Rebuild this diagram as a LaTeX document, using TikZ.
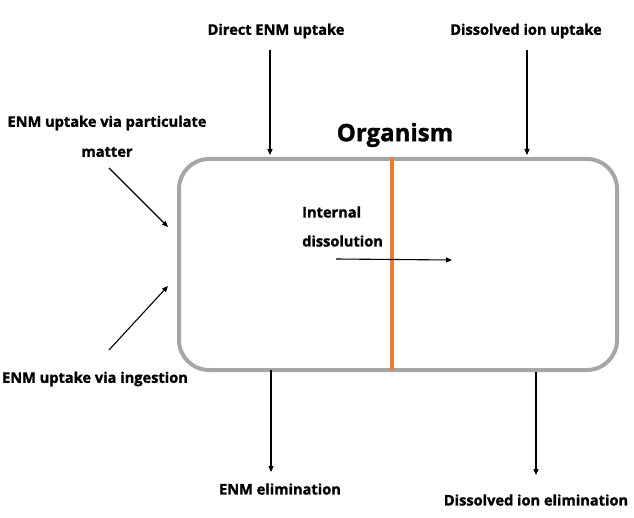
\documentclass[tikz,border=0pt]{standalone}
\usepackage{fontspec}
\setmainfont{Open Sans}[BoldFeatures={FakeBold=1.4}]
\usetikzlibrary{arrows.meta}
\definecolor{boxgray}{HTML}{A6A6A6}
\definecolor{orangeline}{HTML}{ED7D31}
\begin{document}
\begin{tikzpicture}[x=1pt,y=-1pt,
  lbl/.style={font=\bfseries\fontsize{14.6}{16}\selectfont, inner sep=0pt},
  flow/.style={draw=black, line width=1.1pt, -{Triangle[length=6pt,width=5pt]}}]
\useasboundingbox (0,0) rectangle (634,518);
\node[draw=boxgray, line width=4pt, rounded corners=30pt, minimum width=438pt, minimum height=211pt, anchor=north west] (org) at (177,157) {};
\draw[orangeline, line width=3.5pt] (392,157) -- (392,370);
\node[font=\bfseries\fontsize{24}{28}\selectfont, inner sep=0pt] (title) at (395,135) {Organism};
% top inputs
\node[lbl] (direct) at (276,31) {Direct ENM uptake};
\coordinate (d1) at (270,50); \coordinate (d2) at (270,155);
\draw[flow] (d1) -- (d2);
\node[lbl] (dissolved) at (526,31) {Dissolved ion uptake};
\coordinate (i1) at (527,50); \coordinate (i2) at (527,155);
\draw[flow] (i1) -- (i2);
% left inputs
\node[lbl] (part1) at (107,123) {ENM uptake via particulate};
\node[lbl] (part2) at (107,152) {matter};
\coordinate (p1) at (109,168); \coordinate (p2) at (168,227);
\draw[flow] (p1) -- (p2);
\node[lbl] (ing) at (95,379) {ENM uptake via ingestion};
\coordinate (g1) at (109,350); \coordinate (g2) at (168,286);
\draw[flow] (g1) -- (g2);
% internal
\node[lbl, anchor=west] (int1) at (302,212) {Internal};
\node[lbl, anchor=west] (int2) at (302,241) {dissolution};
\coordinate (n1) at (336,259); \coordinate (n2) at (452,260);
\draw[flow] (n1) -- (n2);
% outputs
\coordinate (e1) at (271,370); \coordinate (e2) at (271,472);
\draw[flow] (e1) -- (e2);
\node[lbl] (elim) at (280,489) {ENM elimination};
\coordinate (f1) at (536,372); \coordinate (f2) at (536,475);
\draw[flow] (f1) -- (f2);
\node[lbl] (delim) at (536,500) {Dissolved ion elimination};
\end{tikzpicture}
\end{document}
